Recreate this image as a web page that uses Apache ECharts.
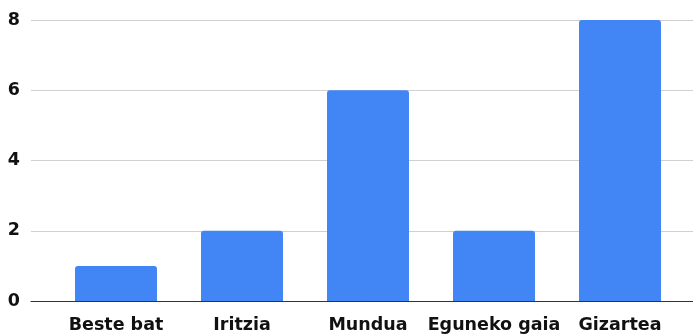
<!DOCTYPE html>
<html>
<head>
<meta charset="utf-8">
<script src="https://cdn.jsdelivr.net/npm/echarts@6/dist/echarts.min.js"></script>
<style>
html,body{margin:0;padding:0;background:#fff;}
#chart{width:693px;height:336px;}
</style>
</head>
<body>
<div id="chart"></div>
<script>
const categories = ["Beste bat", "Iritzia", "Mundua", "Eguneko gaia", "Gizartea"];
const values = [1, 2, 6, 2, 8];
const yTicks = [0, 2, 4, 6, 8];

const FONT = "DejaVu Sans";
const chart = echarts.init(document.getElementById('chart'), null, {renderer: 'canvas'});
const yMin = yTicks[0], yMax = yTicks[yTicks.length - 1], yStep = yTicks[1] - yTicks[0];

chart.setOption({
  animation: false,
  backgroundColor: '#ffffff',
  grid: [
    {left: 31, right: 0, top: 20, bottom: 35},
    {left: 53, right: 10, top: 20, bottom: 35}
  ],
  xAxis: [
    {
      type: 'category', gridIndex: 0, data: categories,
      axisLine: {show: true, lineStyle: {color: '#333333', width: 1}},
      axisTick: {show: false}, axisLabel: {show: false}, splitLine: {show: false}
    },
    {
      type: 'category', gridIndex: 1, data: categories,
      axisLine: {show: false}, axisTick: {show: false},
      axisLabel: {
        show: true, interval: 0, margin: 15,
        color: '#111111', fontFamily: FONT, fontWeight: 'bold', fontSize: 17.5
      }
    }
  ],
  yAxis: [
    {
      type: 'value', gridIndex: 0, min: yMin, max: yMax, interval: yStep,
      axisLine: {show: false}, axisTick: {show: false},
      axisLabel: {
        show: true, margin: 11, color: '#111111',
        fontFamily: FONT, fontWeight: 'bold', fontSize: 17.5
      },
      splitLine: {show: true, lineStyle: {color: '#d0d0d0', width: 1}}
    },
    {
      type: 'value', gridIndex: 1, min: yMin, max: yMax, interval: yStep,
      axisLine: {show: false}, axisTick: {show: false},
      axisLabel: {show: false}, splitLine: {show: false}
    }
  ],
  series: [
    {
      type: 'bar', xAxisIndex: 1, yAxisIndex: 1, data: values,
      barWidth: 82,
      itemStyle: {color: '#4285F4', borderRadius: [3, 3, 0, 0]},
      z: 3
    }
  ]
});
</script>
</body>
</html>
